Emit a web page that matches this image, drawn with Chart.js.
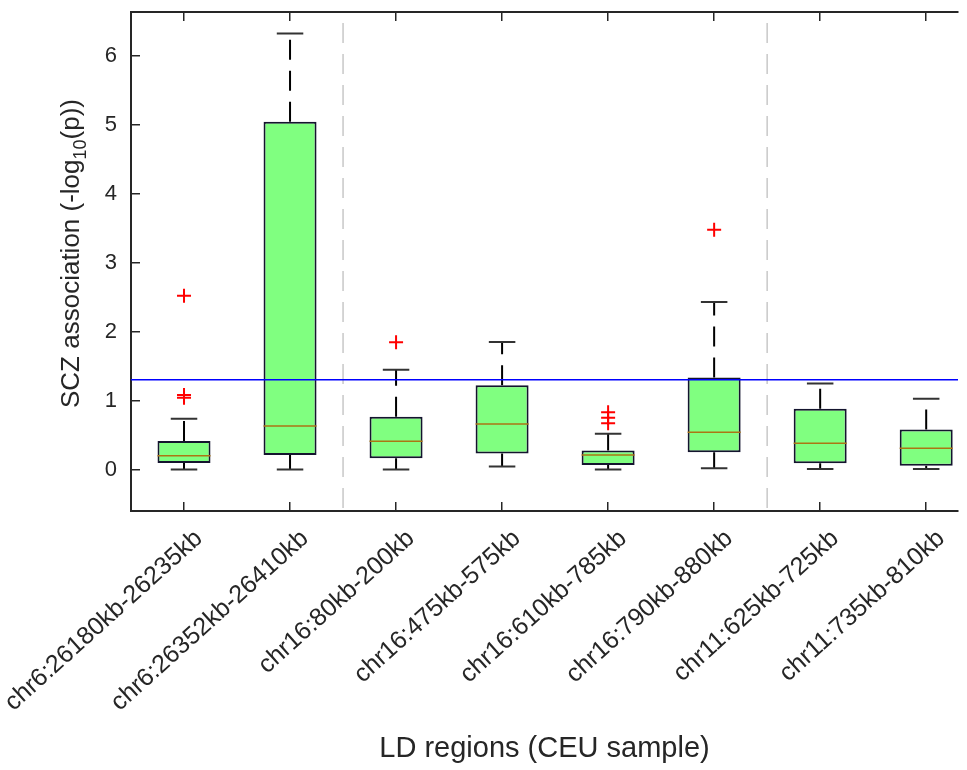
<!DOCTYPE html>
<html>
<head>
<meta charset="utf-8">
<script src="https://cdn.jsdelivr.net/npm/chart.js@4/dist/chart.umd.min.js"></script>
<style>
  html, body { margin: 0; padding: 0; background: #fff; }
  #wrap { width: 967px; height: 770px; }
</style>
</head>
<body>
<div id="wrap"><canvas id="boxChart" width="967" height="770"></canvas></div>
<script>
// LD regions and box statistics
const regions = [
  "chr6:26180kb-26235kb",
  "chr6:26352kb-26410kb",
  "chr16:80kb-200kb",
  "chr16:475kb-575kb",
  "chr16:610kb-785kb",
  "chr16:790kb-880kb",
  "chr11:625kb-725kb",
  "chr11:735kb-810kb",
];
const positions = [1, 2, 3, 4, 5, 6, 7, 8];
const whiskerLow = [0.0, 0.0, 0.0, 0.044, 0.0, 0.02, 0.01, 0.01];
const q1 = [0.097, 0.213, 0.165, 0.232, 0.068, 0.252, 0.093, 0.054];
const medians = [0.2, 0.633, 0.41, 0.662, 0.213, 0.542, 0.383, 0.31];
const q3 = [0.416, 5.04, 0.764, 1.223, 0.275, 1.333, 0.88, 0.58];
const whiskerHigh = [0.735, 6.32, 1.445, 1.85, 0.52, 2.43, 1.246, 1.025];
const outliers = [[2.52, 1.04, 1.08], [], [1.846], [], [0.67, 0.75, 0.83], [3.474], [], []];
const threshold = 1.301; // -log10(0.05)
const groupSeparators = [2.5, 6.5];
const yTicks = [0, 1, 2, 3, 4, 5, 6];

const xMin = 0.5, xMax = 8.3;
const yMin = -0.6, yMax = 6.63;
const boxHalf = 0.25, capHalf = 0.125;

const axisColor = "#262626";
const fontFamily = "'Liberation Sans', Arial, Helvetica, sans-serif";

const gap = { x: NaN, y: null };

function segments(pairs) {
  const out = [];
  pairs.forEach(([a, b]) => { out.push(a, b, gap); });
  return out;
}

const medianData = segments(positions.map((p, i) => [
  { x: p - boxHalf, y: medians[i] }, { x: p + boxHalf, y: medians[i] }
]));
const whiskerData = segments(positions.flatMap((p, i) => [
  [{ x: p, y: q3[i] }, { x: p, y: whiskerHigh[i] }],
  [{ x: p, y: q1[i] }, { x: p, y: whiskerLow[i] }],
]));
const capData = segments(positions.flatMap((p, i) => [
  [{ x: p - capHalf, y: whiskerHigh[i] }, { x: p + capHalf, y: whiskerHigh[i] }],
  [{ x: p - capHalf, y: whiskerLow[i] }, { x: p + capHalf, y: whiskerLow[i] }],
]));
const outlierData = positions.flatMap((p, i) => outliers[i].map(v => ({ x: p, y: v })));
const separatorData = segments(groupSeparators.map(s => [{ x: s, y: yMax }, { x: s, y: yMin }]));
const thresholdData = [{ x: xMin, y: threshold }, { x: xMax, y: threshold }];

const lineBase = { type: "line", pointRadius: 0, fill: false, tension: 0, spanGaps: false };

// y label with a real subscript, drawn where the axis title would go
const yTitleParts = [
  { text: "SCZ association (-log", size: 26, shift: 0 },
  { text: "10", size: 18, shift: 7 },
  { text: "(p))", size: 26, shift: 0 },
];
const yTitlePlugin = {
  id: "yTitle",
  afterDraw(chart) {
    const { ctx, chartArea } = chart;
    ctx.save();
    ctx.fillStyle = axisColor;
    ctx.textBaseline = "alphabetic";
    ctx.textAlign = "left";
    let total = 0;
    yTitleParts.forEach(p => {
      ctx.font = `${p.size}px ${fontFamily}`;
      p.w = ctx.measureText(p.text).width;
      total += p.w;
    });
    ctx.translate(79, (chartArea.top + chartArea.bottom) / 2 - 8);
    ctx.rotate(-Math.PI / 2);
    let x = -total / 2;
    yTitleParts.forEach(p => {
      ctx.font = `${p.size}px ${fontFamily}`;
      ctx.fillText(p.text, x, p.shift);
      x += p.w;
    });
    ctx.restore();
  },
};

const ctx = document.getElementById("boxChart").getContext("2d");
new Chart(ctx, {
  type: "bar",
  data: {
    datasets: [
      { ...lineBase, label: "threshold", data: thresholdData, borderColor: "#0000ff", borderWidth: 1.5, order: 0 },
      { ...lineBase, label: "outliers", data: outlierData, showLine: false, pointStyle: "cross",
        pointRadius: 7, pointBorderColor: "#ff0000", pointBorderWidth: 2, order: 1 },
      { ...lineBase, label: "median", data: medianData, borderColor: "#ab7614", borderWidth: 1.5, order: 2 },
      { type: "bar", label: "box", data: positions.map((p, i) => ({ x: p, y: [q1[i], q3[i]] })),
        backgroundColor: "#80ff80", borderColor: "#14142e", borderWidth: 2, borderSkipped: false,
        barPercentage: 0.5, categoryPercentage: 1, order: 3 },
      { ...lineBase, label: "caps", data: capData, borderColor: "#333333", borderWidth: 2, order: 4 },
      { ...lineBase, label: "whiskers", data: whiskerData, borderColor: "#000000", borderWidth: 2,
        borderDash: [20, 11], order: 5 },
      { ...lineBase, label: "separators", data: separatorData, borderColor: "#c8c8c8", borderWidth: 1.5,
        borderDash: [20, 11], borderDashOffset: 20, order: 6 },
    ],
  },
  options: {
    responsive: false,
    animation: false,
    maintainAspectRatio: false,
    layout: { padding: 0 },
    plugins: { legend: { display: false }, tooltip: { enabled: false } },
    scales: {
      x: {
        type: "linear",
        position: "bottom",
        offset: false,
        min: xMin,
        max: xMax,
        afterBuildTicks: (s) => { s.ticks = positions.map(v => ({ value: v })); },
        afterFit: (s) => { s.height = 259; s.paddingLeft = 0; s.paddingRight = 0; },
        grid: { offset: false, drawOnChartArea: false, tickLength: -9, color: axisColor, lineWidth: 1.5 },
        border: { color: axisColor, width: 2 },
        ticks: {
          autoSkip: false,
          minRotation: 42,
          maxRotation: 42,
          padding: 22,
          labelOffset: 15,
          color: axisColor,
          font: { family: fontFamily, size: 25 },
          callback: (v) => regions[positions.indexOf(v)],
        },
        title: {
          display: true,
          text: "LD regions (CEU sample)",
          color: axisColor,
          font: { family: fontFamily, size: 29 },
          padding: { top: 0, bottom: 4 },
        },
      },
      xTop: {
        type: "linear",
        position: "top",
        offset: false,
        min: xMin,
        max: xMax,
        afterBuildTicks: (s) => { s.ticks = positions.map(v => ({ value: v })); },
        afterFit: (s) => { s.height = 12; s.paddingLeft = 0; s.paddingRight = 0; },
        grid: { offset: false, drawOnChartArea: false, tickLength: -9, color: axisColor, lineWidth: 1.5 },
        border: { color: axisColor, width: 2 },
        ticks: { display: false },
      },
      y: {
        type: "linear",
        position: "left",
        min: yMin,
        max: yMax,
        afterBuildTicks: (s) => { s.ticks = yTicks.map(v => ({ value: v })); },
        afterFit: (s) => { s.width = 131; s.paddingTop = 0; s.paddingBottom = 0; },
        grid: { drawOnChartArea: false, tickLength: -9, color: axisColor, lineWidth: 1.5 },
        border: { color: axisColor, width: 2 },
        ticks: {
          padding: 23,
          color: axisColor,
          font: { family: fontFamily, size: 22 },
        },
        title: { display: false },
      },
    },
  },
  plugins: [yTitlePlugin],
});
</script>
</body>
</html>
